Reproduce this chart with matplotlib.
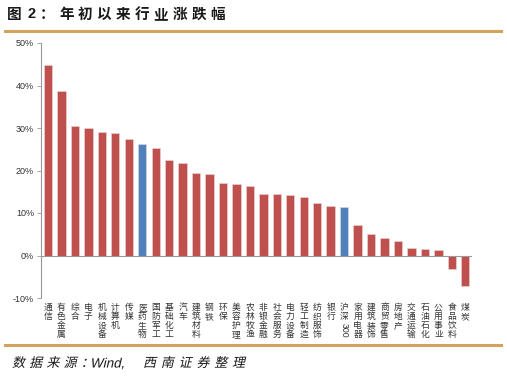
import matplotlib
matplotlib.use("Agg")
import matplotlib.pyplot as plt
from matplotlib.lines import Line2D
from matplotlib.textpath import TextPath
from matplotlib.patches import PathPatch
from matplotlib.font_manager import FontProperties
from matplotlib.transforms import Affine2D, IdentityTransform
import numpy as np

plt.rcParams['font.family'] = ['Noto Sans CJK SC', 'DejaVu Sans']

industries = ["通信", "有色金属", "综合", "电子", "机械设备", "计算机", "传媒", "医药生物",
              "国防军工", "基础化工", "汽车", "建筑材料", "钢铁", "环保", "美容护理", "农林牧渔",
              "非银金融", "社会服务", "电力设备", "轻工制造", "纺织服饰", "银行", "沪深300",
              "家用电器", "建筑装饰", "商贸零售", "房地产", "交通运输", "石油石化", "公用事业",
              "食品饮料", "煤炭"]
changes = [44.8, 38.6, 30.4, 30.1, 29.0, 28.8, 27.4, 26.3,
           25.4, 22.5, 21.7, 19.3, 19.1, 17.0, 16.8, 16.3,
           14.5, 14.5, 14.2, 13.8, 12.4, 11.6, 11.3,
           7.2, 5.1, 4.1, 3.5, 1.7, 1.5, 1.2,
           -3.1, -7.2]
highlight = ["医药生物", "沪深300"]
yticks = [-10, 0, 10, 20, 30, 40, 50]

red = "#C0504D"
blue = "#4F81BD"
gold = "#D3A35E"
W, H = 507, 377

fig = plt.figure(figsize=(W/100, H/100), dpi=100)
ax = fig.add_axes([41/W, 1 - 298/H, (472 - 41)/W, (298 - 43)/H])

x = np.arange(len(industries))
colors = [blue if n in highlight else red for n in industries]
ax.bar(x, changes, width=0.62, color=colors, edgecolor="#E8D8D8", linewidth=0.4, zorder=2)

ax.set_xlim(-0.52, len(industries) - 0.5)
ax.set_ylim(-10, 50)
ax.set_yticks(yticks)
ax.set_yticklabels([f"{t}%" for t in yticks], fontsize=6.5, color="#333333",
                   family=['Liberation Sans', 'DejaVu Sans'])
ax.tick_params(axis='y', direction='out', length=3, width=0.6, color="#999999", pad=2)
ax.set_xticks([])
for s in ["top", "right", "bottom"]:
    ax.spines[s].set_visible(False)
ax.spines["left"].set_color("#999999")
ax.spines["left"].set_linewidth(0.8)
ax.axhline(0, color="#999999", linewidth=0.8, zorder=3)

# vertical stacked category labels
for i, name in enumerate(industries):
    if name == "沪深300":
        ax.text(i, -11.2, "沪\n深", ha="center", va="top", fontsize=6.3,
                color="#333333", linespacing=1.0)
        ax.text(i, -15.8, "300", ha="center", va="top", fontsize=6.3,
                color="#333333", rotation=270, family=['Liberation Sans', 'DejaVu Sans'])
    else:
        ax.text(i, -11.2, "\n".join(name), ha="center", va="top", fontsize=6.3,
                color="#333333", linespacing=1.0)

# title, spaced out character by character
title_parts = [("图", 7), ("2", 27), ("：", 40)]
title_parts += [(c, 59 + 18.9*k) for k, c in enumerate("年初以来行业涨跌幅")]
for c, px in title_parts:
    fam = ['Liberation Sans', 'DejaVu Sans'] if c == "2" else ['Noto Sans CJK SC']
    fig.text(px/W, 1 - 14/H, c, fontsize=10.5, fontweight="bold", family=fam,
             ha="left", va="center", color="#1a1a1a")

fig.add_artist(Line2D([5/W, 501/W], [1 - 31/H, 1 - 31/H], color=gold, linewidth=2.2))
fig.add_artist(Line2D([5/W, 501/W], [1 - 345/H, 1 - 345/H], color=gold, linewidth=2.2))


# source line in slanted text (CJK font has no italic, so skew the glyph outlines)
def slanted(s, px, baseline, size, family):
    tp = TextPath((0, 0), s, size=size, prop=FontProperties(family=family))
    tr = Affine2D().skew_deg(13, 0).translate(px, H - baseline)
    fig.add_artist(PathPatch(tr.transform_path(tp), facecolor="#1a1a1a", lw=0,
                             transform=IdentityTransform()))


src_parts = [(c, 12 + 17.2*k) for k, c in enumerate("数据来源：")]
src_parts += [(c, 143 + 17.8*k) for k, c in enumerate("西南证券整理")]
for c, px in src_parts:
    slanted(c, px, 367, 13, "Noto Sans CJK SC")
slanted("Wind,", 90, 367.5, 13.5, "Liberation Sans")

fig.savefig("out.png", dpi=100)
